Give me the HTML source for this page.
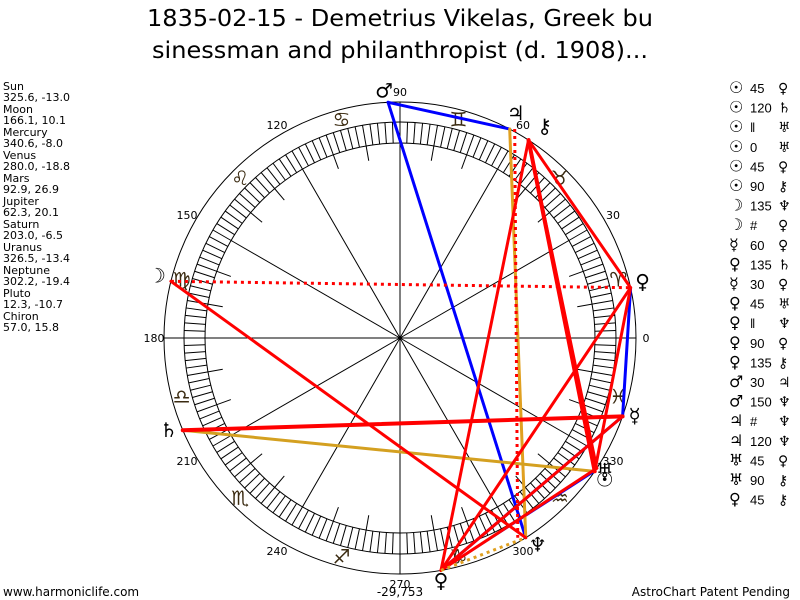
<!DOCTYPE html>
<html><head><meta charset="utf-8"><style>
body{margin:0;background:#fff;width:800px;height:600px;overflow:hidden}
svg{display:block}
.g{font-family:"DejaVu Sans",sans-serif}
</style></head><body>
<svg width="800" height="600" viewBox="0 0 800 600" xmlns="http://www.w3.org/2000/svg">
<rect width="800" height="600" fill="#fff"/>
<g font-family="DejaVu Sans, sans-serif" font-size="23" text-anchor="middle" fill="#000">
<text x="400" y="26" textLength="506" lengthAdjust="spacingAndGlyphs">1835-02-15 - Demetrius Vikelas, Greek bu</text>
<text x="400" y="58" textLength="496" lengthAdjust="spacingAndGlyphs">sinessman and philanthropist (d. 1908)...</text>
</g>
<g font-family="DejaVu Sans, sans-serif" font-size="11" fill="#000">
<text x="3" y="90">Sun</text><text x="3" y="101">325.6, -13.0</text>
<text x="3" y="113">Moon</text><text x="3" y="124">166.1, 10.1</text>
<text x="3" y="136">Mercury</text><text x="3" y="147">340.6, -8.0</text>
<text x="3" y="159">Venus</text><text x="3" y="170">280.0, -18.8</text>
<text x="3" y="182">Mars</text><text x="3" y="193">92.9, 26.9</text>
<text x="3" y="205">Jupiter</text><text x="3" y="216">62.3, 20.1</text>
<text x="3" y="228">Saturn</text><text x="3" y="239">203.0, -6.5</text>
<text x="3" y="251">Uranus</text><text x="3" y="262">326.5, -13.4</text>
<text x="3" y="274">Neptune</text><text x="3" y="285">302.2, -19.4</text>
<text x="3" y="297">Pluto</text><text x="3" y="308">12.3, -10.7</text>
<text x="3" y="320">Chiron</text><text x="3" y="331">57.0, 15.8</text>
<text x="3" y="596" font-size="12">www.harmoniclife.com</text>
<text x="790" y="596" font-size="12" text-anchor="end">AstroChart Patent Pending</text>
<text x="400" y="596" font-size="12" text-anchor="middle">-29,753</text>
</g>
<g id="chart" fill="none" stroke="#000" stroke-width="1">
<circle cx="400" cy="338" r="236"/>
<circle cx="400" cy="338" r="216"/>
<circle cx="400" cy="338" r="195"/>
<g id="spokes"></g>
<g id="hatch"></g>
</g>
<g id="labels" font-family="DejaVu Sans, sans-serif" font-size="11" fill="#000" text-anchor="middle"></g>
<g id="signs" class="g" font-size="20" fill="#3a2a10" text-anchor="middle" dominant-baseline="central"></g>
<g id="asp" fill="none" stroke-linecap="round"></g>
<g id="pl" class="g" font-size="20" fill="#000" text-anchor="middle" dominant-baseline="central"></g>
<g class="g" font-size="13" fill="#000" id="list"></g>
</svg>
<script>
const C=[400,338],NS="http://www.w3.org/2000/svg";
function P(a,r){a=a*Math.PI/180;return[C[0]+r*Math.cos(a),C[1]-r*Math.sin(a)];}
function el(t,at,p,txt){const e=document.createElementNS(NS,t);for(const k in at)e.setAttribute(k,at[k]);if(txt!=null)e.textContent=txt;document.getElementById(p).appendChild(e);return e;}
for(let a=0;a<360;a+=30){const r=(a%90==0)?236:195;const q=P(a,r);el('line',{x1:400,y1:338,x2:q[0],y2:q[1]},'spokes');}
for(let a=0;a<360;a+=2){const p=P(a,195),q=P(a,216);el('line',{x1:p[0],y1:p[1],x2:q[0],y2:q[1]},'hatch');}
for(let a=0;a<360;a+=10){if(a%30==0)continue;const p=P(a,180),q=P(a,195);el('line',{x1:p[0],y1:p[1],x2:q[0],y2:q[1]},'hatch');}
for(let a=0;a<360;a+=30){const q=P(a,246);el('text',{x:q[0],y:q[1]+4},'labels',String(a));}
const signs="♈♉♊♋♌♍♎♏♐♑♒♓";
for(let i=0;i<12;i++){const q=P(i*30+15,226);el('text',{x:q[0],y:q[1]},'signs',signs[i]+"\uFE0E");}
const L={Su:325.6,Mo:166.1,Me:340.6,Ve:280,Ma:92.9,Ju:62.3,Sa:203,Ur:326.5,Ne:302.2,Pl:12.3,Ch:57};
const G={Su:"☉",Mo:"☽",Me:"☿",Ve:"♀",Ma:"♂",Ju:"♃",Sa:"♄",Ur:"♅",Ne:"♆",Pl:"♀",Ch:"⚷"};
const O={Su:[10,8],Mo:[-14,-6],Me:[12,-1],Ve:[0,10],Ma:[-4,-12],Ju:[6,-16],Sa:[-14,0],Ur:[8,2],Ne:[12,7],Pl:[12,-6],Ch:[16,-14]};
const A=[["Ma","Ju","#00f",3],["Ma","Ne","#00f",3],["Pl","Me","#00f",3],["Me","Ve","#00f",3],["Su","Ve","#00f",2],
["Ju","Ne","#e0a020",3],["Sa","Su","#d4a020",3],
["Mo","Ne","#f00",3],["Sa","Me","#f00",4],["Ch","Pl","#f00",3],["Ch","Su","#f00",4],["Ch","Ve","#f00",3],["Pl","Ve","#f00",3],["Pl","Su","#f00",3],["Me","Ve","#f00",3],["Ch","Ur","#f00",3],["Ur","Ve","#f00",3]];
for(const a of A){const p=P(L[a[0]],236),q=P(L[a[1]],236);el('line',{x1:p[0],y1:p[1],x2:q[0],y2:q[1],stroke:a[2],'stroke-width':a[3]},'asp');}
const D=[["Mo","Pl","#f00"],["Ju","Ne","#f00"],["Ve","Ne","#e0a020"]];
for(const a of D){let p=P(L[a[0]],236),q=P(L[a[1]],236);if(a[0]=="Ju"){p=[p[0]+5,p[1]];q=[q[0]-8,q[1]];}el('line',{x1:p[0],y1:p[1],x2:q[0],y2:q[1],stroke:a[2],'stroke-width':3,'stroke-dasharray':'3 4','stroke-linecap':'butt'},'asp');}
for(const k in L){const q=P(L[k],236);el('text',{x:q[0]+O[k][0],y:q[1]+O[k][1]},'pl',G[k]);}
const list=[["☉","45","♀"],["☉","120","♄"],["☉","‖","♅"],["☉","0","♅"],["☉","45","♀"],["☉","90","⚷"],["☽","135","♆"],["☽","#","♀"],["☿","60","♀"],["♀","135","♄"],["☿","30","♀"],["♀","45","♅"],["♀","‖","♆"],["♀","90","♀"],["♀","135","⚷"],["♂","30","♃"],["♂","150","♆"],["♃","#","♆"],["♃","120","♆"],["♅","45","♀"],["♅","90","⚷"],["♀","45","⚷"]];
list.forEach((r,i)=>{const y=93+i*19.6;el('text',{x:729,y:y,'font-size':16,'font-weight':'bold'},'list',r[0]);el('text',{x:750,y:y,'font-family':'Liberation Sans, sans-serif'},'list',r[1]);el('text',{x:778,y:y,'font-size':14},'list',r[2]);});
</script>
</body></html>
